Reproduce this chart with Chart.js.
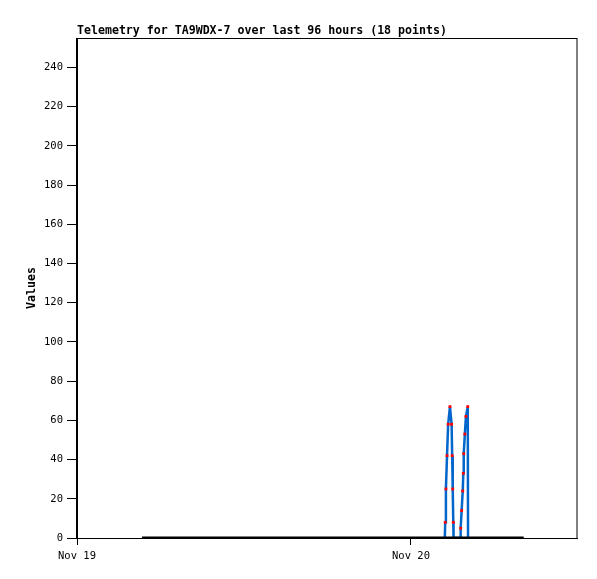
<!DOCTYPE html>
<html>
<head>
<meta charset="utf-8">
<script src="https://cdn.jsdelivr.net/npm/chart.js@4/dist/chart.umd.min.js"></script>
<style>
  body { margin: 0; background: #fff; }
  canvas { display: block; }
</style>
</head>
<body>
<canvas id="chart" width="597" height="579"></canvas>
<script>
// hours since Nov 19 00:00
const blueTimes = [26.43, 26.46, 26.51, 26.59, 26.67, 26.80, 26.92, 26.96, 27.00, 27.04, 27.06,
                   27.53, 27.57, 27.64, 27.72, 27.76, 27.79, 27.87, 27.95, 28.08, 28.10];
const blueValues = [0, 8, 25, 42, 58, 67, 58, 42, 25, 8, 0,
                    0, 5, 14, 24, 33, 43, 53, 62, 67, 0];
const zeroTimes = [4.67, 32.1];
const zeroValues = [0, 0];

const xTicks = [0, 24];
const xTickLabels = ["Nov 19", "Nov 20"];
const yTicks = [0, 20, 40, 60, 80, 100, 120, 140, 160, 180, 200, 220, 240];

const titleText = "Telemetry for TA9WDX-7 over last 96 hours (18 points)";
const mono = "'DejaVu Sans Mono', monospace";

function pairs(xs, ys) {
  return xs.map(function (x, i) { return { x: x, y: ys[i] }; });
}

const frame = {
  id: "frame",
  afterDraw: function (chart) {
    const c = chart.ctx;
    const a = chart.chartArea;
    c.save();
    c.strokeStyle = "#000";
    c.lineWidth = 1;
    c.strokeRect(a.left - 0.5, a.top + 0.5, a.right - a.left + 0.5, a.bottom - a.top);
    c.fillStyle = "#000";
    c.font = "bold 11.6px " + mono;
    c.textBaseline = "alphabetic";
    c.textAlign = "left";
    c.fillText(titleText, a.left, 34);
    c.translate(35, (a.top + a.bottom) / 2);
    c.rotate(-Math.PI / 2);
    c.textAlign = "center";
    c.fillText("Values", 0, 0);
    c.restore();
  }
};

var ctx = document.getElementById("chart").getContext("2d");

var chart = new Chart(ctx, {
  type: "line",
  data: {
    datasets: [
      {
        label: "zero",
        data: pairs(zeroTimes, zeroValues),
        borderColor: "#000",
        borderWidth: 3,
        pointRadius: 0,
      },
      {
        label: "telemetry",
        data: pairs(blueTimes, blueValues),
        borderColor: "#0066cc",
        borderWidth: 2.5,
        pointStyle: "rect",
        pointRadius: function (c) { return c.raw && c.raw.y > 0 ? 2 : 0; },
        pointBackgroundColor: "#ff0000",
        pointBorderWidth: 0,
        tension: 0,
      },
    ],
  },
  options: {
    responsive: false,
    animation: false,
    layout: { padding: { left: 0, right: 20, top: 38, bottom: 0 } },
    plugins: {
      legend: { display: false },
      tooltip: { enabled: false },
    },
    scales: {
      x: {
        type: "linear",
        min: 0,
        max: 35.93,
        afterBuildTicks: function (s) { s.ticks = xTicks.map(function (v) { return { value: v }; }); },
        afterFit: function (s) { s.height = 41; },
        ticks: {
          color: "#000",
          font: { family: mono, size: 10.5 },
          padding: 5,
          maxRotation: 0,
          callback: function (v) { return xTickLabels[xTicks.indexOf(v)]; },
        },
        grid: { drawOnChartArea: false, drawTicks: true, tickLength: 7, color: "#000" },
        border: { display: true, color: "#000" },
      },
      y: {
        min: 0,
        max: 255,
        afterBuildTicks: function (s) { s.ticks = yTicks.map(function (v) { return { value: v }; }); },
        afterFit: function (s) { s.width = 77; },
        ticks: {
          color: "#000",
          font: { family: mono, size: 10.5 },
          padding: 4,
        },
        grid: { drawOnChartArea: false, drawTicks: true, tickLength: 10, color: "#000" },
        border: { display: true, color: "#000" },
      },
    },
  },
  plugins: [frame],
});
</script>
</body>
</html>
